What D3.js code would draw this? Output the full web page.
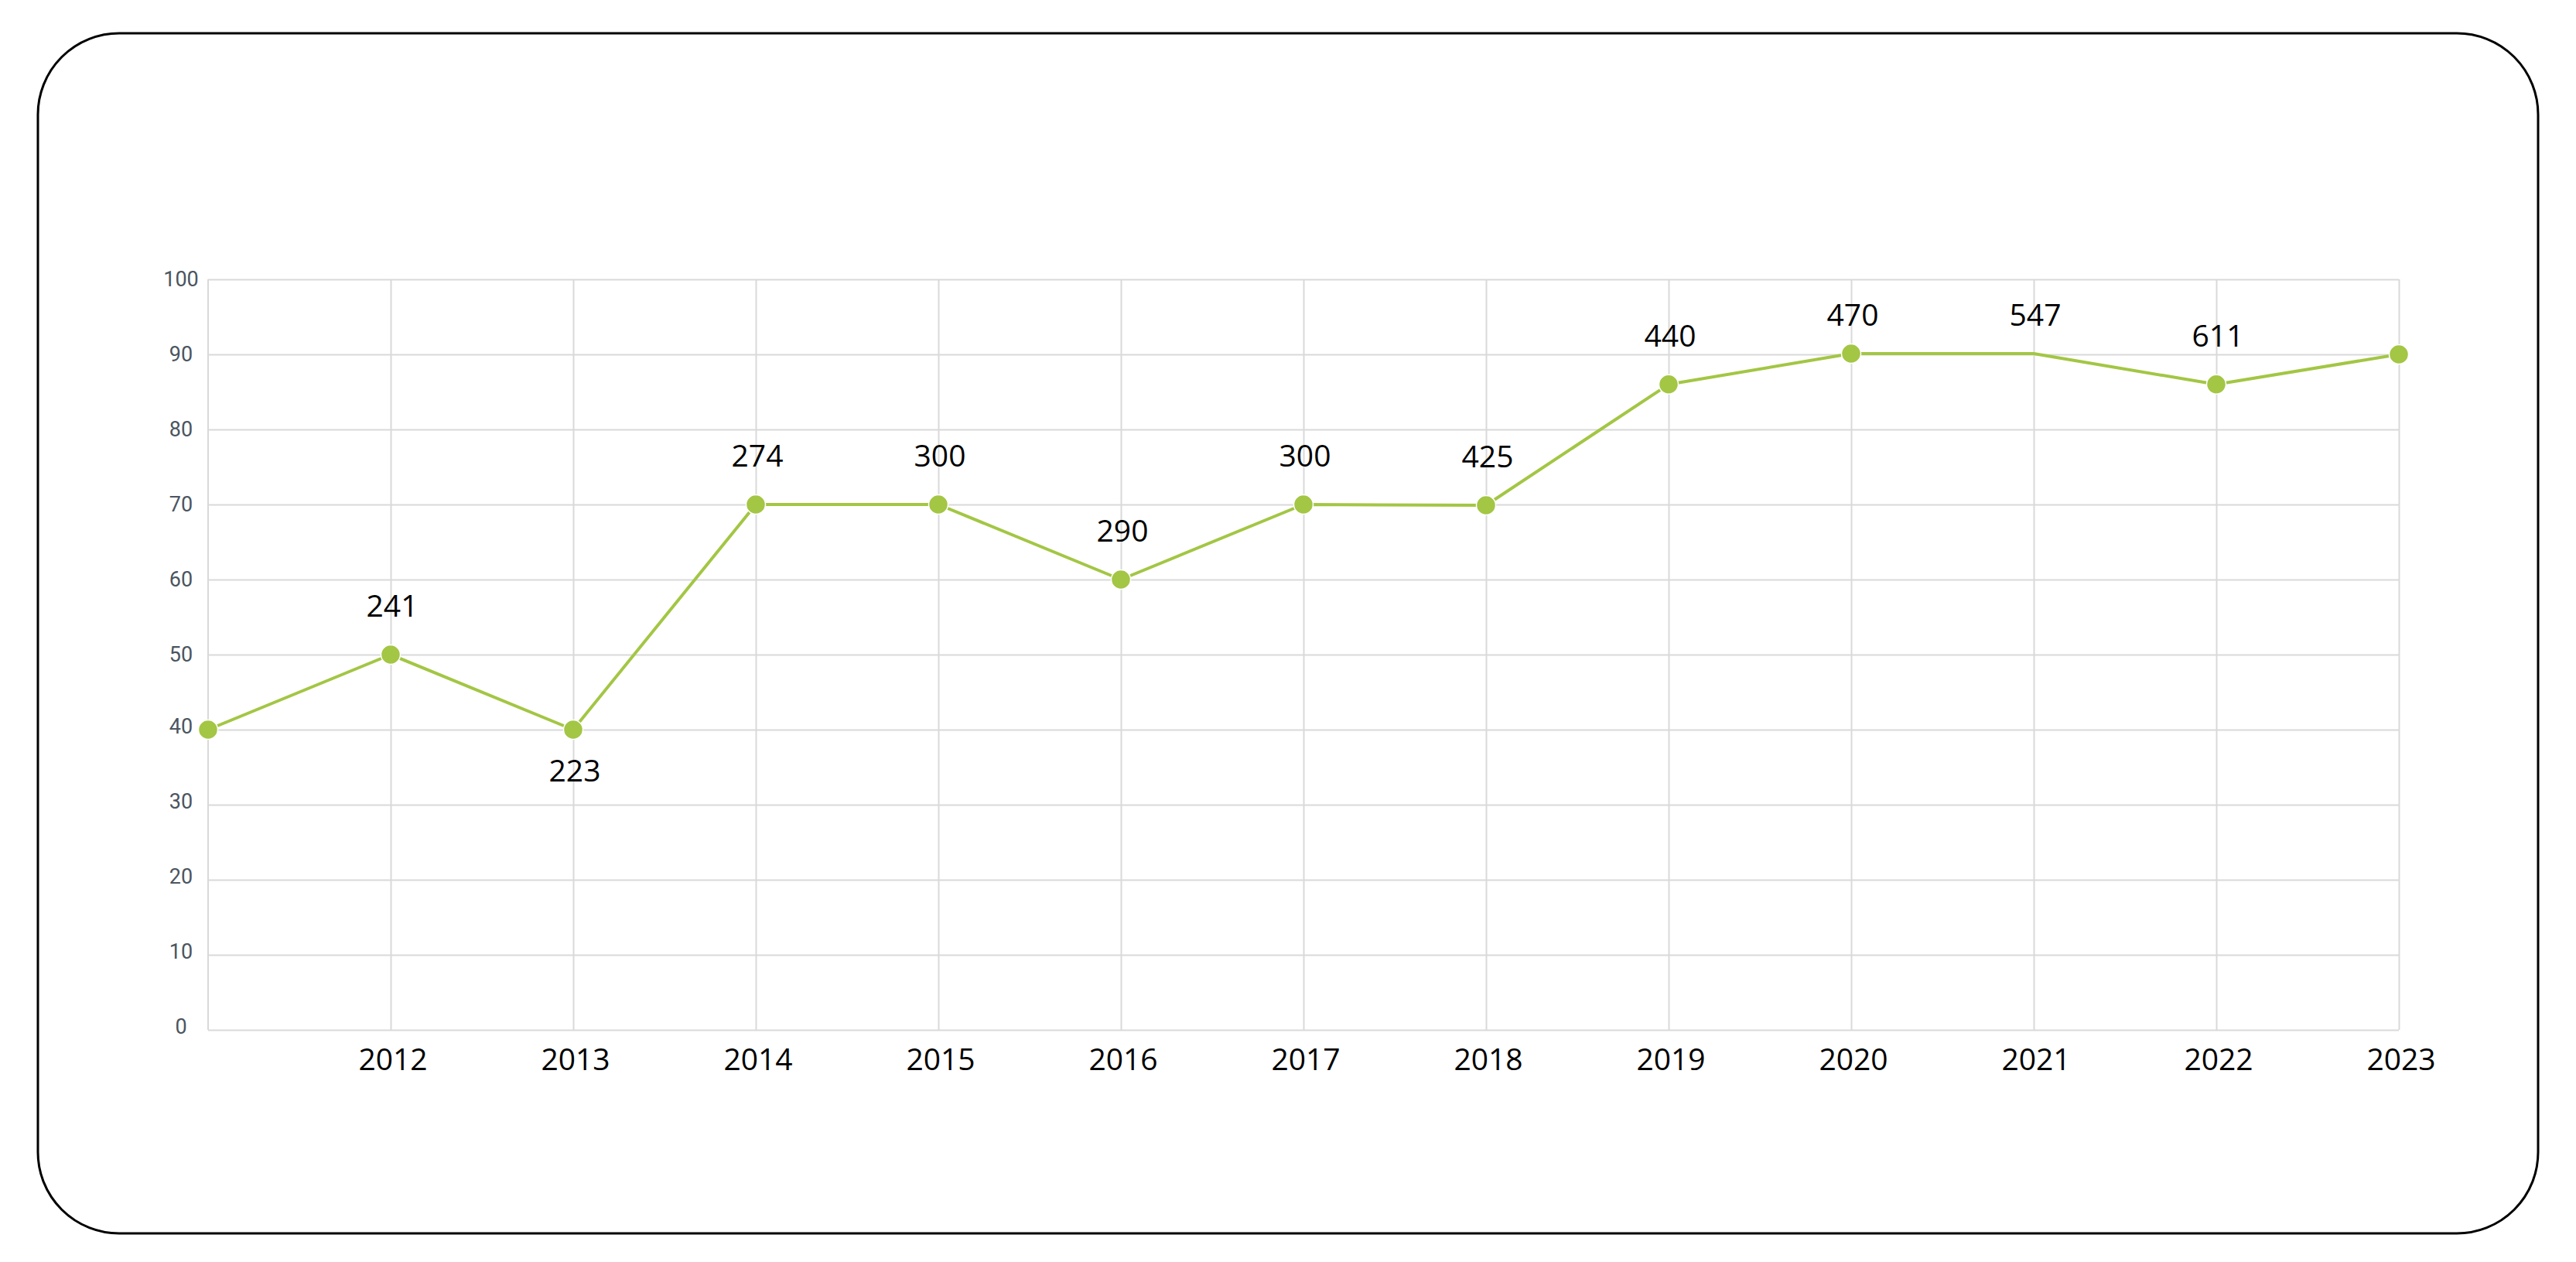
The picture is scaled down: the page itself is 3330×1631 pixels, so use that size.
<!DOCTYPE html>
<html>
<head>
<meta charset="utf-8">
<script src="https://cdn.jsdelivr.net/npm/d3@7"></script>
<style>
  html, body { margin: 0; padding: 0; background: #fff; }
  svg { display: block; }
</style>
</head>
<body>
<svg id="chart" width="3330" height="1631"></svg>
<script>
// ---- data ----
const years = [2011, 2012, 2013, 2014, 2015, 2016, 2017, 2018, 2019, 2020, 2021, 2022, 2023];
const values = [40, 50, 40, 70, 70, 60, 70, 69.9, 86, 90.1, 90.1, 86, 90];
const pointLabels = [null, "241", "223", "274", "300", "290", "300", "425", "440", "470", "547", "611", null];
const labelBelow = [false, false, true, false, false, false, false, false, false, false, false, false, false];
const showMarker = [true, true, true, true, true, true, true, true, true, true, false, true, true];
const xTickYears = [2012, 2013, 2014, 2015, 2016, 2017, 2018, 2019, 2020, 2021, 2022, 2023];
const yTicks = [0, 10, 20, 30, 40, 50, 60, 70, 80, 90, 100];

// ---- layout ----
const svg = d3.select("#chart");
const L = 269, R = 3101, T = 361, B = 1331;
const green = "#a3c644";
const gridColor = "#d9d9d9";
const labelFont = "'Open Sans', sans-serif";

svg.append("rect")
  .attr("x", 49).attr("y", 43)
  .attr("width", 3232).attr("height", 1551)
  .attr("rx", 105).attr("ry", 105)
  .attr("fill", "#fff").attr("stroke", "#000").attr("stroke-width", 3);

const x = d3.scaleLinear().domain([2011, 2023]).range([L, R]);
const y = d3.scaleLinear().domain([0, 100]).range([B, T]);

// horizontal grid
const gy = svg.append("g").attr("transform", `translate(${L},0)`)
  .call(d3.axisLeft(y).tickValues(yTicks).tickSize(-(R - L)).tickFormat(""));
gy.select(".domain").remove();
gy.selectAll(".tick line").attr("stroke", gridColor).attr("stroke-width", 2);

// vertical grid
const gx = svg.append("g").attr("transform", `translate(0,${B})`)
  .call(d3.axisBottom(x).tickValues(xTickYears).tickSize(-(B - T)).tickFormat(""));
gx.select(".domain").remove();
gx.selectAll(".tick line").attr("stroke", gridColor).attr("stroke-width", 2);

// plot left border
svg.append("line").attr("x1", L).attr("x2", L).attr("y1", T).attr("y2", B)
  .attr("stroke", gridColor).attr("stroke-width", 2);

// y tick labels (centered)
svg.append("g").selectAll("text").data(yTicks).join("text")
  .attr("x", 234).attr("y", d => y(d) - (d < 50 ? 4 : 0))
  .attr("text-anchor", "middle").attr("dominant-baseline", "central")
  .attr("font-family", "Roboto, sans-serif").attr("font-size", 27)
  .attr("fill", "#4b5560")
  .text(d => d);

// x tick labels
svg.append("g").selectAll("text").data(xTickYears).join("text")
  .attr("x", d => x(d) + 3).attr("y", 1383)
  .attr("text-anchor", "middle")
  .attr("font-family", labelFont).attr("font-size", 39).attr("font-weight", 500)
  .attr("fill", "#000")
  .text(d => d);

// line
const pts = years.map((yr, i) => ({ yr, v: values[i], lab: pointLabels[i], below: labelBelow[i], dot: showMarker[i] }));
svg.append("path").datum(pts)
  .attr("fill", "none").attr("stroke", green).attr("stroke-width", 4)
  .attr("stroke-linejoin", "round")
  .attr("d", d3.line().x(d => x(d.yr)).y(d => y(d.v)));

// markers
svg.append("g").selectAll("circle").data(pts.filter(d => d.dot)).join("circle")
  .attr("cx", d => x(d.yr)).attr("cy", d => y(d.v)).attr("r", 12.5)
  .attr("fill", green).attr("stroke", "#fff").attr("stroke-width", 1.5);

// data labels (kept inside the plot top with a minimum baseline)
const minLabelBaseline = y(100) + 60;
svg.append("g").selectAll("text").data(pts.filter(d => d.lab)).join("text")
  .attr("x", d => x(d.yr) + 2)
  .attr("y", d => d.below ? y(d.v) + 67 : Math.max(y(d.v) - 49, minLabelBaseline))
  .attr("text-anchor", "middle")
  .attr("font-family", labelFont).attr("font-size", 39).attr("font-weight", 500)
  .attr("fill", "#000")
  .text(d => d.lab);
</script>
</body>
</html>
